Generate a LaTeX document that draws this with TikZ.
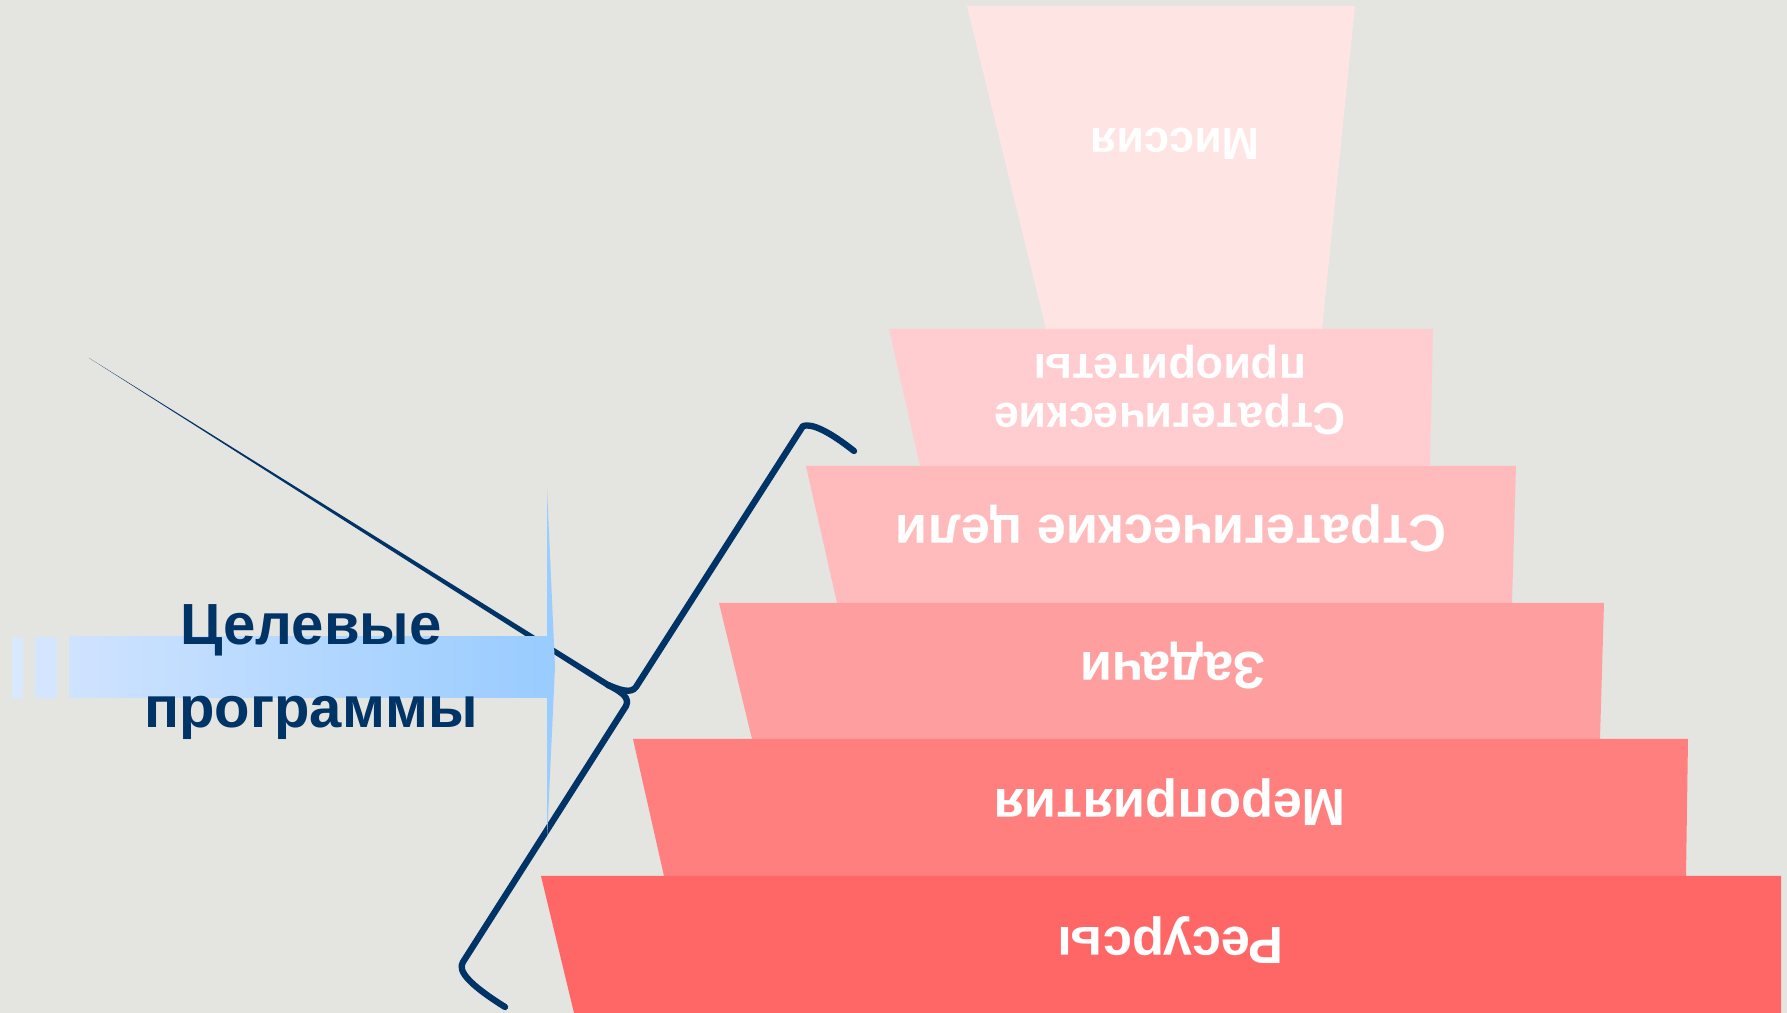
\documentclass[tikz,border=0pt]{standalone}
\usepackage{fontspec}
\setmainfont{Liberation Sans}

\definecolor{paper}{HTML}{E4E4E1}
\definecolor{navy}{HTML}{003366}
\definecolor{missioncol}{HTML}{FFE4E4}
\definecolor{priocol}{HTML}{FFCDD0}
\definecolor{goalcol}{HTML}{FFBBBB}
\definecolor{taskcol}{HTML}{FF9E9E}
\definecolor{eventcol}{HTML}{FF7F7F}
\definecolor{rescol}{HTML}{FF6666}
\definecolor{barleft}{HTML}{CFE3FF}
\definecolor{barright}{HTML}{99CCFF}

\begin{document}
\begin{tikzpicture}[x=0.01cm, y=-0.01cm,
   every node/.style={inner sep=0pt},
   layer text/.style={text=white, rotate=180,
     font=\bfseries\fontsize{14.9}{16}\selectfont},
   small text/.style={layer text,
     font=\bfseries\fontsize{12.8}{13.9}\selectfont},
   brace/.style={draw=navy, line width=1.8pt, line cap=round, line join=round}]

\fill[paper] (0,0) rectangle (1787,1013);
\useasboundingbox (0,0) rectangle (1787,1013);

% the upside-down pyramid
\fill[missioncol] (967,6) -- (1355,6) -- (1322,329) -- (1046,329) -- cycle;
\fill[priocol] (889,329) -- (1433,329) -- (1430,466) -- (920,466) -- cycle;
\fill[goalcol] (806,466) -- (1516,466) -- (1512,603) -- (837,603) -- cycle;
\fill[taskcol] (719,603) -- (1604,603) -- (1600,739) -- (752,739) -- cycle;
\fill[eventcol] (633,739) -- (1688,739) -- (1686,876) -- (664,876) -- cycle;
\fill[rescol] (541,876) -- (1781,876) -- (1781,1013) -- (574,1013) -- cycle;

\node[small text] (mission) at (1175,144) {Миссия};
\node[small text, align=center] (priorities) at (1170,390) {Стратегические\\приоритеты};
\node[layer text] (goals) at (1171,528) {Стратегические цели};
\node[layer text] (tasks) at (1173,666) {Задачи};
\node[layer text] (events) at (1170,802) {Мероприятия};
\node[layer text] (resources) at (1171,940) {Ресурсы};

% brace with the long tip
\fill[navy] (89,358) -- (609.6,682.4) -- (606.4,687.6) -- cycle;
\draw[brace] (854,451) .. controls (830,432) and (812,423) .. (803,426)
   -- (636,687) .. controls (631,694) and (620,690) .. (608,685);
\draw[brace] (608,685) .. controls (622,692) and (630,698) .. (626,706)
   -- (463,962) .. controls (457,971) and (470,985) .. (505,1007);

% blue bar
\fill[barleft!80!white] (12,637) rectangle (23,698);
\fill[barleft!90!white] (35,637) rectangle (57,698);
\shade[left color=barleft, right color=barright] (69,637) rectangle (547,698);
\fill[barright] (547,488) -- (555,667) -- (547,840) -- cycle;

\node[text=navy, align=center, font=\bfseries\fontsize{16.5}{23.6}\selectfont]
   (programs) at (311,672) {Целевые\\программы};

\end{tikzpicture}
\end{document}
